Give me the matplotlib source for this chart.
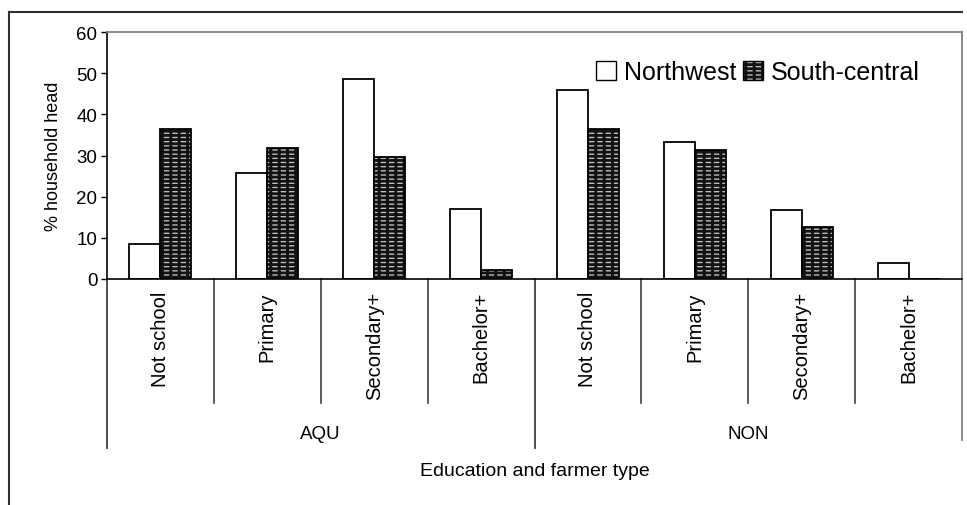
import matplotlib
matplotlib.use("Agg")
import matplotlib.pyplot as plt
from matplotlib.patches import Patch
from matplotlib.legend_handler import HandlerTuple
from matplotlib.lines import Line2D
from matplotlib.transforms import blended_transform_factory
import numpy as np

plt.rcParams['font.family'] = ['Liberation Sans', 'DejaVu Sans']
plt.rcParams['hatch.linewidth'] = 2.0

# Data
education = ["Not school", "Primary", "Secondary+", "Bachelor+"]
farmer_types = ["AQU", "NON"]
northwest = [8.5, 25.8, 48.7, 17.1, 45.9, 33.2, 16.7, 3.9]
south_central = [36.4, 31.9, 29.6, 2.3, 36.4, 31.4, 12.7, 0.0]
yticks = [0, 10, 20, 30, 40, 50, 60]

W, H = 967, 506
fig = plt.figure(figsize=(W / 100, H / 100), dpi=100)

# Plot area in pixel terms
left, right, top, zero = 107, 962, 33, 280
ax = fig.add_axes([left / W, 1 - zero / H, (right - left) / W, (zero - top) / H])

n = len(northwest)
x = np.arange(n)
bw = 0.29

# Dark grid over a light fill gives the dotted texture of the second series
SC_FACE, SC_GRID, SC_HATCH = '#bcbcbc', '#121212', '----||'

ax.bar(x - bw / 2, northwest, width=bw, facecolor='white', edgecolor='black', linewidth=1.3, zorder=2)
ax.bar(x + bw / 2, south_central, width=bw, facecolor=SC_FACE, edgecolor=SC_GRID,
       hatch=SC_HATCH, linewidth=0, zorder=2)
ax.bar(x + bw / 2, south_central, width=bw, fill=False, edgecolor='black', linewidth=1.3, zorder=3)

ax.set_xlim(-0.5, n - 0.5)
ax.set_ylim(0, 60)
ax.set_yticks(yticks)
ax.set_yticklabels([str(t) for t in yticks], fontsize=13.5)
ax.tick_params(axis='y', direction='out', length=4, width=1, pad=3)
ax.set_xticks([])

ax.spines['top'].set_color('#808080')
ax.spines['top'].set_linewidth(1.3)
ax.spines['right'].set_visible(False)
for s in ['left', 'bottom']:
    ax.spines[s].set_color('black')
    ax.spines[s].set_linewidth(1.2)

ax.set_ylabel("% household head", fontsize=13, labelpad=10)

# Multi-level category axis below the plot
trans = blended_transform_factory(ax.transData, ax.transAxes)
ax_h = zero - top
def ay(py):
    return (zero - py) / ax_h

for i, lab in enumerate(education * len(farmer_types)):
    ax.text(i, ay(292), lab, rotation=90, ha='center', va='top', fontsize=14.5,
            transform=trans, clip_on=False)

for b in range(1, n):
    if b % len(education) == 0:
        continue
    ax.add_line(Line2D([b - 0.5, b - 0.5], [ay(280), ay(404)], transform=trans,
                       color='#404040', lw=1.2, clip_on=False))
for b in [0, len(education), n]:
    col = '#808080' if b == n else '#404040'
    y_end = 441 if b == n else 449
    y_start = top if b == n else 280
    ax.add_line(Line2D([b - 0.5, b - 0.5], [ay(y_start), ay(y_end)], transform=trans,
                       color=col, lw=1.3, clip_on=False))

for g, name in enumerate(farmer_types):
    cx = g * len(education) + (len(education) - 1) / 2
    ax.text(cx, ay(435), name, ha='center', va='center', fontsize=13.5,
            transform=trans, clip_on=False)

fig.text(535 / W, 1 - 472 / H, "Education and farmer type", ha='center', va='center',
         fontsize=14)

# Outer frame (left and top edges)
fig.add_artist(Line2D([9 / W, 9 / W], [0, 1 - 13 / H], transform=fig.transFigure,
                      color='#303030', lw=1.5))
fig.add_artist(Line2D([9 / W, 962 / W], [1 - 13 / H, 1 - 13 / H], transform=fig.transFigure,
                      color='#303030', lw=1.5))

# Legend
h_nw = Patch(facecolor='white', edgecolor='black', linewidth=1.0)
h_sc_fill = Patch(facecolor=SC_FACE, edgecolor=SC_GRID, hatch=SC_HATCH, linewidth=0)
h_sc_edge = Patch(fill=False, edgecolor='black', linewidth=1.0)
leg = fig.legend([h_nw, (h_sc_fill, h_sc_edge)], ["Northwest", "South-central"],
                 handler_map={tuple: HandlerTuple(ndivide=1, pad=0)},
                 loc='center left', bbox_to_anchor=(596 / W, 1 - 73 / H),
                 ncol=2, frameon=False, fontsize=18, handlelength=0.8, handleheight=0.8,
                 handletextpad=0.3, columnspacing=0.3, borderpad=0, borderaxespad=0)

fig.savefig("out.png", dpi=100)
